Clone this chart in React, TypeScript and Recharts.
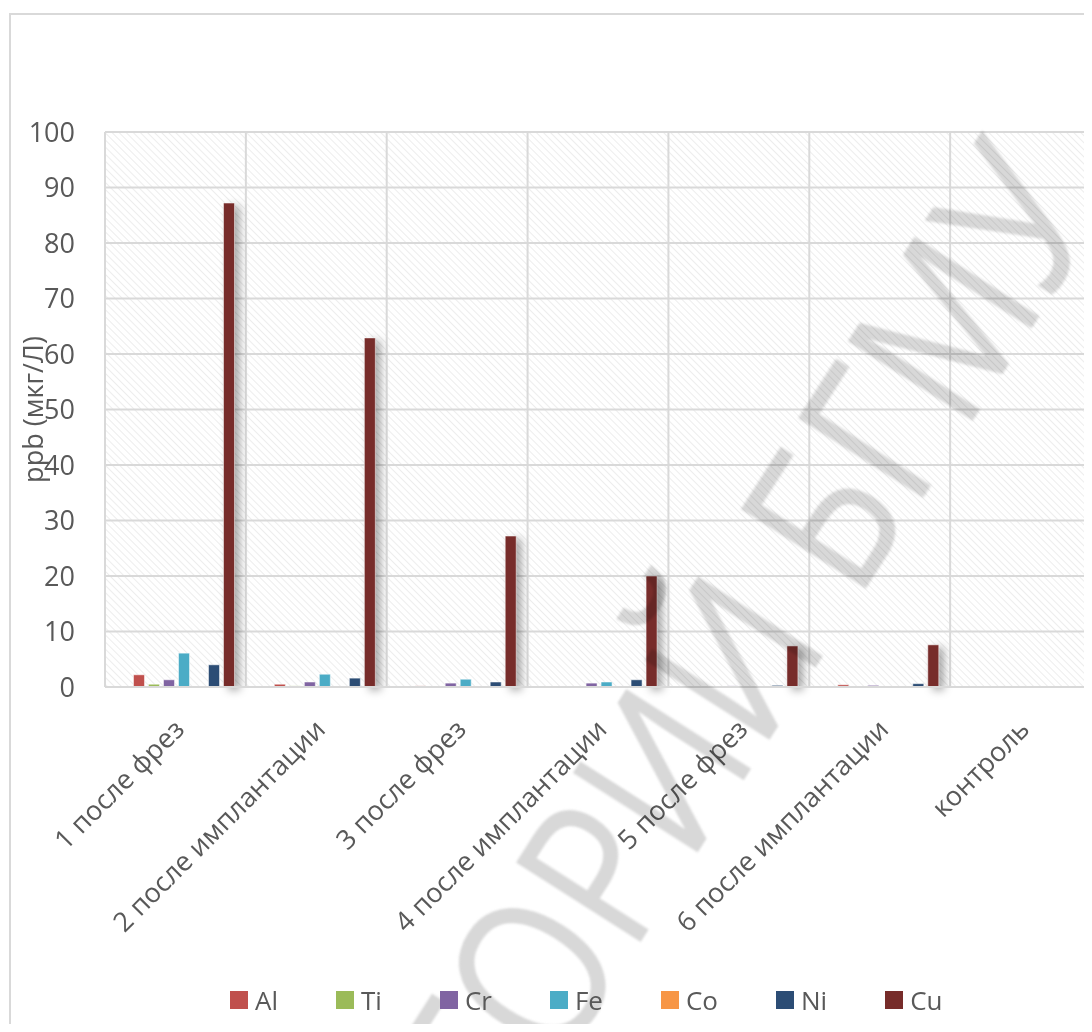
import React from 'react';
import { BarChart, Bar, XAxis, YAxis, CartesianGrid } from 'recharts';

const categories = [
  '1 после фрез',
  '2 после имплантации',
  '3 после фрез',
  '4 после имплантации',
  '5 после фрез',
  '6 после имплантации',
  'контроль',
];

const al = [2.2, 0.5, 0.2, 0, 0, 0.4, 0];
const ti = [0.5, 0.2, 0.1, 0, 0, 0, 0];
const cr = [1.3, 0.9, 0.7, 0.7, 0.2, 0.3, 0];
const fe = [6.1, 2.3, 1.4, 0.9, 0, 0, 0];
const co = [0.1, 0, 0, 0, 0, 0, 0];
const ni = [4.0, 1.6, 0.9, 1.3, 0.3, 0.6, 0];
const cu = [87.2, 62.9, 27.2, 20.0, 7.4, 7.6, 0];

const yTicks = [0, 10, 20, 30, 40, 50, 60, 70, 80, 90, 100];

const series = [
  { key: 'Al', values: al, color: '#C0504D' },
  { key: 'Ti', values: ti, color: '#9BBB59' },
  { key: 'Cr', values: cr, color: '#8064A2' },
  { key: 'Fe', values: fe, color: '#4BACC6' },
  { key: 'Co', values: co, color: '#F79646' },
  { key: 'Ni', values: ni, color: '#2C4D75' },
  { key: 'Cu', values: cu, color: '#772C2A' },
];

const data = categories.map((name, i) => {
  const row: Record<string, string | number> = { name };
  series.forEach((s) => {
    row[s.key] = s.values[i];
  });
  return row;
});

const FONT = '"Open Sans", sans-serif';
const TEXT = '#595959';

const XTick = (props: any) => {
  const { x, y, payload } = props;
  return (
    <text
      transform={`translate(${x + 3},${y + 36}) rotate(-45)`}
      textAnchor="end"
      fontSize={27}
      fontFamily={FONT}
      fill={TEXT}
    >
      {payload.value}
    </text>
  );
};

const App = () => {
  return (
    <div
      style={{
        position: 'relative',
        width: 1092,
        height: 1032,
        margin: -8,
        overflow: 'hidden',
        background: '#fff',
      }}
    >
      <div
        style={{
          position: 'absolute',
          left: 9,
          top: 13,
          width: 1200,
          height: 1200,
          border: '2px solid #d9d9d9',
        }}
      />
      <div style={{ position: 'absolute', left: 0, top: 0 }}>
        <BarChart
          width={1092}
          height={1032}
          data={data}
          margin={{ top: 132, right: 1, left: 0, bottom: 0 }}
          barCategoryGap={21}
          barGap={4}
        >
          <defs>
            <pattern
              id="hatch"
              width="5"
              height="5"
              patternUnits="userSpaceOnUse"
              patternTransform="rotate(-45)"
            >
              <rect width="5" height="5" fill="#ffffff" />
              <line x1="0" y1="0" x2="0" y2="5" stroke="#e6e6e6" strokeWidth="1.4" />
            </pattern>
          </defs>
          <CartesianGrid
            fill="url(#hatch)"
            stroke="#d9d9d9"
            strokeWidth={2}
            verticalCoordinatesGenerator={({ offset }: any) =>
              Array.from(
                { length: categories.length + 1 },
                (_, i) => offset.left + (i * offset.width) / categories.length
              )
            }
          />
          <XAxis
            dataKey="name"
            interval={0}
            height={345}
            padding={{ left: 7.5, right: -7.5 }}
            tick={<XTick />}
            tickLine={false}
            axisLine={{ stroke: '#d9d9d9', strokeWidth: 2 }}
          />
          <YAxis
            width={105}
            domain={[0, 100]}
            ticks={yTicks}
            tickLine={false}
            axisLine={false}
            tickSize={0}
            tickMargin={30}
            tick={{ fontSize: 27, fontFamily: FONT, fill: TEXT }}
            label={{
              content: (p: any) => (
                <text
                  transform={`translate(43, ${p.viewBox.y + p.viewBox.height / 2}) rotate(-90)`}
                  textAnchor="middle"
                  fontSize={27}
                  fontFamily={FONT}
                  fill={TEXT}
                >
                  ppb (мкг/Л)
                </text>
              ),
            }}
          />
          {series.map((s) => (
            <Bar
              key={s.key}
              dataKey={s.key}
              fill={s.color}
              stroke="rgba(255,255,255,0.5)"
              strokeWidth={1}
              isAnimationActive={false}
              style={
                s.key === 'Cu'
                  ? { filter: 'drop-shadow(5px 3px 4px rgba(0,0,0,0.35))' }
                  : undefined
              }
            />
          ))}
        </BarChart>
      </div>
      <svg
        width={1092}
        height={1032}
        style={{
          position: 'absolute',
          left: 0,
          top: 0,
          pointerEvents: 'none',
          mixBlendMode: 'multiply',
        }}
      >
        <text
          transform="translate(1107, 210) rotate(-57.5) scale(0.85, 1)"
          textAnchor="end"
          fontSize={207}
          fontFamily={FONT}
          fill="#d8d8d8"
          style={{ filter: 'blur(1px)' }}
        >
          РЕПОЗИТОРИЙ БГМУ
        </text>
      </svg>
      <div
        style={{
          position: 'absolute',
          left: 230,
          top: 982,
          display: 'flex',
          gap: 58,
          fontFamily: FONT,
          fontSize: 26,
          color: TEXT,
        }}
      >
        {series.map((s) => (
          <div key={s.key} style={{ display: 'flex', alignItems: 'center', gap: 7 }}>
            <span style={{ width: 18, height: 18, background: s.color, display: 'inline-block' }} />
            <span>{s.key}</span>
          </div>
        ))}
      </div>
    </div>
  );
};

export default App;
